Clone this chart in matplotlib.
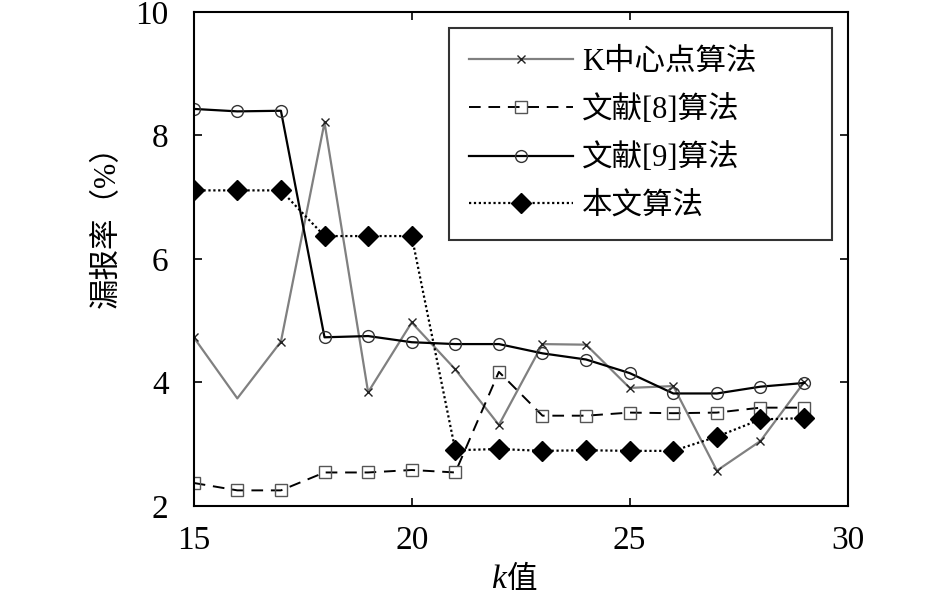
import matplotlib
matplotlib.use("Agg")
import matplotlib.pyplot as plt

plt.rcParams['font.family'] = ['Liberation Serif', 'Noto Sans CJK SC']

k = [15, 16, 17, 18, 19, 20, 21, 22, 23, 24, 25, 26, 27, 28, 29]
kmedoids = [4.73, 3.74, 4.66, 8.21, 3.84, 4.97, 4.21, 3.31, 4.62, 4.61, 3.91, 3.94, 2.57, 3.05, 4.00]
ref8 = [2.37, 2.25, 2.25, 2.54, 2.54, 2.58, 2.54, 4.17, 3.46, 3.46, 3.51, 3.50, 3.51, 3.59, 3.59]
ref9 = [8.43, 8.39, 8.40, 4.73, 4.75, 4.65, 4.62, 4.62, 4.47, 4.37, 4.15, 3.82, 3.82, 3.93, 3.99]
ours = [7.11, 7.11, 7.11, 6.37, 6.37, 6.37, 2.90, 2.92, 2.89, 2.90, 2.89, 2.89, 3.12, 3.40, 3.42]

labels = ['K中心点算法', '文献[8]算法', '文献[9]算法', '本文算法']
xticks = [15, 20, 25, 30]
yticks = [2, 4, 6, 8, 10]

fig = plt.figure(figsize=(9.45, 6), dpi=100)
ax = fig.add_axes([0.205, 0.157, 0.692, 0.823])

ax.plot(k, kmedoids, color='#808080', lw=1.6, marker='x', ms=5.5, mew=1.0,
        mec='#222222', markevery=[i for i in range(len(k)) if i != 1], label=labels[0])
ax.plot(k, ref8, color='black', lw=1.4, ls=(0, (6, 4)), marker='s', ms=8,
        mfc='none', mec='#555555', mew=1.0, label=labels[1])
ax.plot(k, ref9, color='black', lw=1.6, ls='-', marker='o', ms=8.5,
        mfc='none', mec='#333333', mew=1.0, label=labels[2])
ax.plot(k, ours, color='black', lw=1.6, ls=(0, (1, 1.2)), marker='D', ms=10.5,
        mfc='black', mec='black', label=labels[3])

ax.set_xlim(15, 30)
ax.set_ylim(2, 10)
ax.set_xticks(xticks)
ax.set_yticks(yticks)
ax.tick_params(direction='in', top=True, right=True, length=6, width=1.2,
               labelsize=24)
ax.tick_params(axis='y', pad=18)
ax.tick_params(axis='x', pad=14)
for s in ax.spines.values():
    s.set_linewidth(1.5)

ax.set_ylabel('漏报率（%）', fontsize=22)
ax.yaxis.set_label_coords(-0.11, 0.58)
fig.text(0.535, 0.02, 'k', fontsize=24, style='italic', family='Liberation Serif',
         ha='right', va='baseline')
fig.text(0.535, 0.02, '值', fontsize=22, family='Noto Sans CJK SC',
         ha='left', va='baseline')

leg = ax.legend(loc='upper left', bbox_to_anchor=(0.391, 0.968, 0.585, 0.0),
                mode='expand', fontsize=22,
                frameon=True, fancybox=False, edgecolor='black', handlelength=3.4,
                labelspacing=0.6, borderpad=0.65, handletextpad=0.3, borderaxespad=0)
leg.get_frame().set_linewidth(1.5)

fig.savefig('out.png', dpi=100)
